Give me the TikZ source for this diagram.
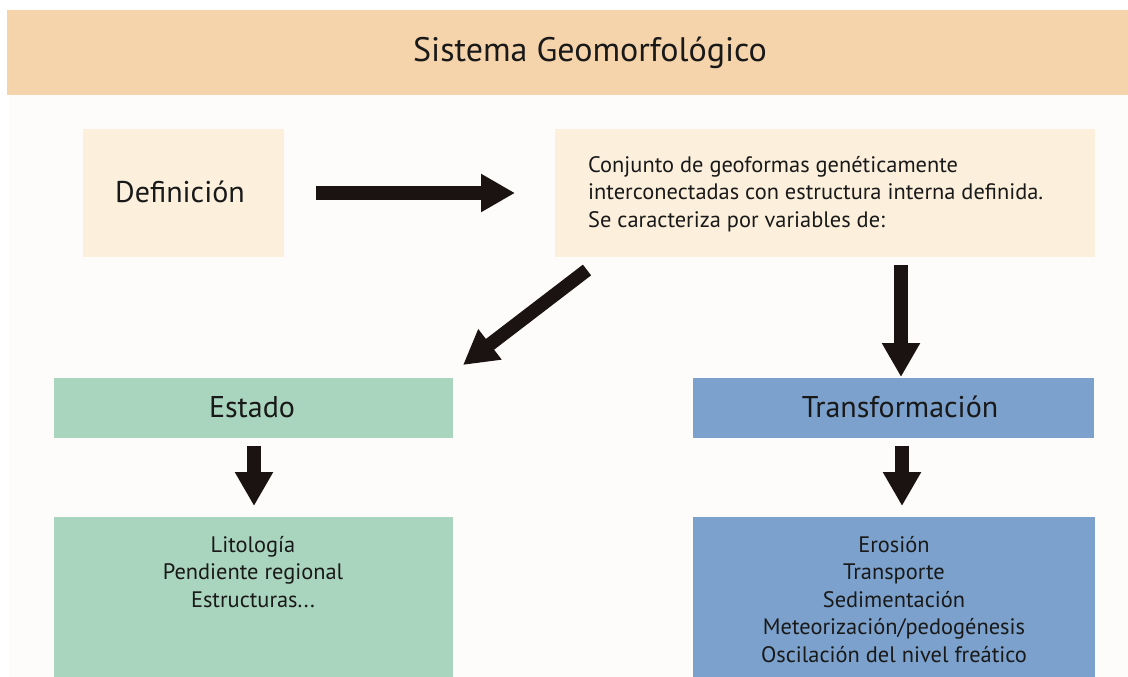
\documentclass[tikz,border=0pt]{standalone}
\usepackage{fontspec}
\setmainfont{PT Sans}
\usetikzlibrary{arrows.meta}
\definecolor{hdrc}{HTML}{F5D3AB}
\definecolor{creamc}{HTML}{FCF0DD}
\definecolor{estc}{HTML}{A9D4BD}
\definecolor{trc}{HTML}{7BA1CC}
\definecolor{bgc}{HTML}{FDFCFA}
\definecolor{arrc}{HTML}{1A1312}
\begin{document}
\begin{tikzpicture}[x=1pt,y=-1pt,
  boxfill/.style={draw=none, inner sep=0pt, outer sep=0pt},
  bigarrow/.style={draw=arrc, line width=13.5pt, -{Triangle[length=34pt,width=36pt]}},
  txt/.style={text=black!90, inner sep=0pt}
]
\useasboundingbox (0,0) rectangle (1128,677);
\fill[white] (0,0) rectangle (1128,677);
\fill[bgc] (9,95) rectangle (1128,677);
% header
\node[boxfill, fill=hdrc, minimum width=1121pt, minimum height=85pt, anchor=north west] (hdr) at (7,10) {};
\node[txt, anchor=base, font=\fontsize{34}{40}\selectfont] (title) at (590,62) {Sistema Geomorfológico};
% definition
\node[boxfill, fill=creamc, minimum width=201pt, minimum height=128pt, anchor=north west] (def) at (83,129) {};
\node[txt, anchor=base, font=\fontsize{30}{34}\selectfont] (deft) at (180,202) {Definición};
\node[boxfill, fill=creamc, minimum width=540pt, minimum height=128pt, anchor=north west] (desc) at (555,129) {};
\node[txt, anchor=north west, align=left, font=\fontsize{22.4}{27.5}\selectfont] (desct) at (588,156)
  {Conjunto de geoformas genéticamente\\interconectadas con estructura interna definida.\\Se caracteriza por variables de:};
% estado
\node[boxfill, fill=estc, minimum width=399pt, minimum height=60pt, anchor=north west] (esth) at (54,378) {};
\node[txt, anchor=base, font=\fontsize{30}{34}\selectfont] (estt) at (252,417) {Estado};
\node[boxfill, fill=estc, minimum width=399pt, minimum height=160pt, anchor=north west] (estb) at (54,517) {};
\node[txt, anchor=north, align=center, font=\fontsize{22.4}{27.5}\selectfont] (estl) at (253,536)
  {Litología\\Pendiente regional\\Estructuras...};
% transformacion
\node[boxfill, fill=trc, minimum width=401pt, minimum height=60pt, anchor=north west] (trh) at (693,378) {};
\node[txt, anchor=base, font=\fontsize{30}{34}\selectfont] (trt) at (900,417) {Transformación};
\node[boxfill, fill=trc, minimum width=402pt, minimum height=160pt, anchor=north west] (trb) at (693,517) {};
\node[txt, anchor=north, align=center, font=\fontsize{22.4}{27.5}\selectfont] (trl) at (894,536)
  {Erosión\\Transporte\\Sedimentación\\Meteorización/pedogénesis\\Oscilación del nivel freático};
% arrows
\draw[bigarrow, shorten <=32pt, shorten >=40pt] (def.east) -- (desc.west);
\coordinate (a2s) at (587,270);
\coordinate (a2e) at (463,365);
\draw[bigarrow] (a2s) -- (a2e);
\coordinate (a3s) at (901,265);
\coordinate (a3e) at (901,377);
\draw[bigarrow] (a3s) -- (a3e);
\coordinate (a4s) at (254,446);
\coordinate (a4e) at (254,506);
\draw[bigarrow] (a4s) -- (a4e);
\coordinate (a5s) at (902,446);
\coordinate (a5e) at (902,506);
\draw[bigarrow] (a5s) -- (a5e);
\end{tikzpicture}
\end{document}
